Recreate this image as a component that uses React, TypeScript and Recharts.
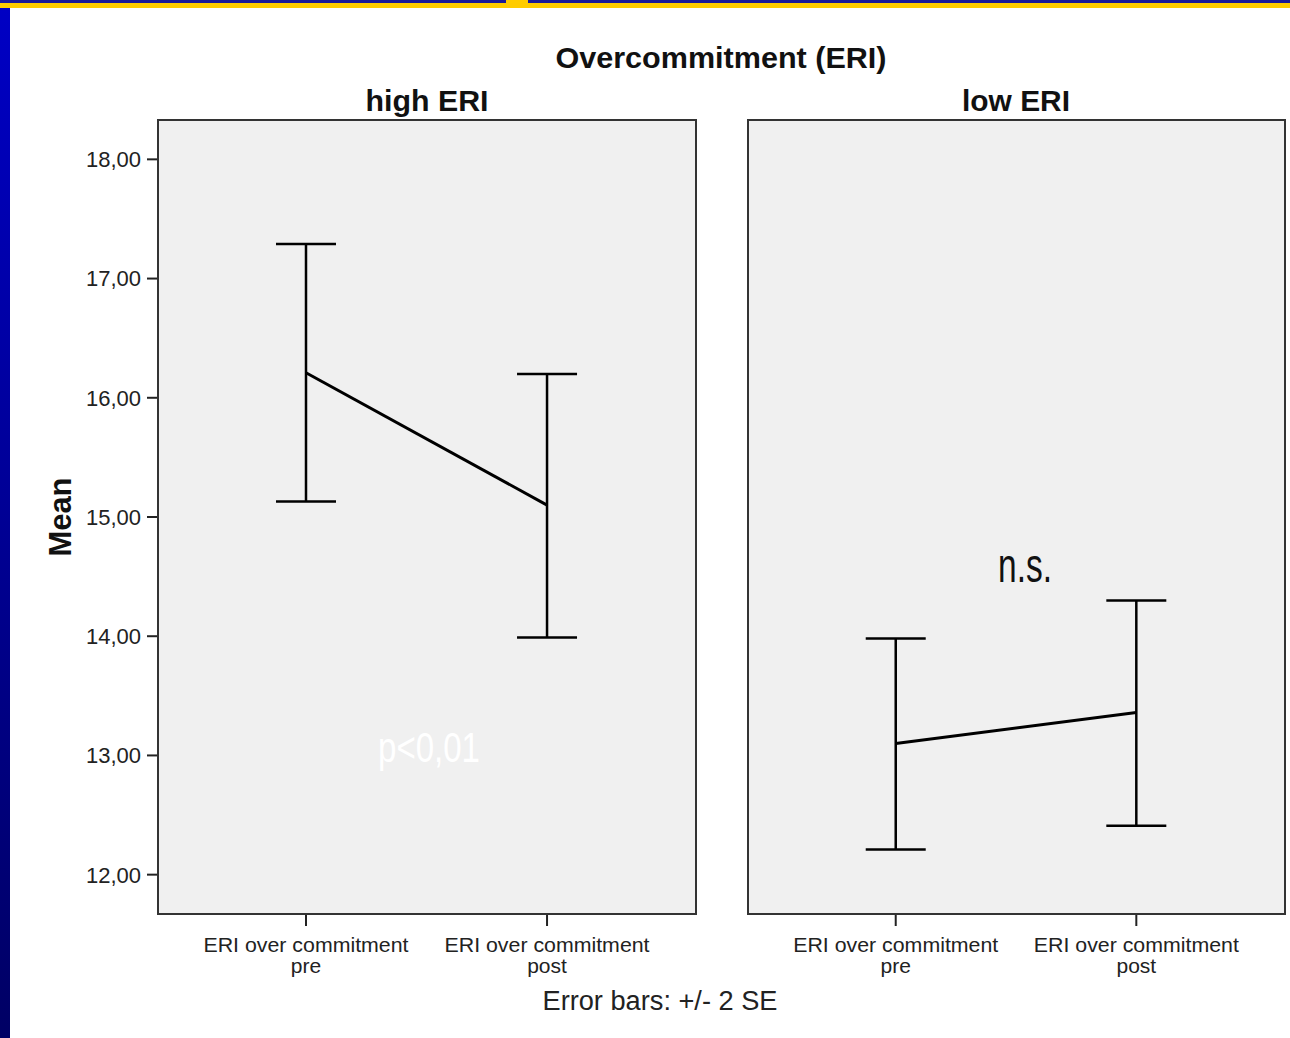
import React from 'react';
import { LineChart, Line, XAxis, YAxis, ErrorBar, CartesianGrid } from 'recharts';

const categoryLine1 = ['ERI over commitment', 'ERI over commitment'];
const categoryLine2 = ['pre', 'post'];
const yTicks = [12, 13, 14, 15, 16, 17, 18];

const highMeans = [16.21, 15.1];
const highLower = [15.13, 13.99];
const highUpper = [17.29, 16.2];

const lowMeans = [13.1, 13.36];
const lowLower = [12.21, 12.41];
const lowUpper = [13.98, 14.3];

const buildRows = (means: number[], lower: number[], upper: number[]) =>
  means.map((m, i) => ({ x: i, mean: m, err: [m - lower[i], upper[i] - m] }));

const highData = buildRows(highMeans, highLower, highUpper);
const lowData = buildRows(lowMeans, lowLower, lowUpper);

const FONT = '"Liberation Sans", Arial, sans-serif';
const Y_DOMAIN: [number, number] = [11.67, 18.33];
const X_DOMAIN: [number, number] = [-0.614, 1.618];

const fmt = (v: number) => v.toFixed(2).replace('.', ',');

const YTick = (props: any) => {
  const { x, y, payload } = props;
  return (
    <text x={x} y={y} dy="0.36em" textAnchor="end" fontFamily={FONT} fontSize={22} fill="#222">
      {fmt(payload.value)}
    </text>
  );
};

const XTick = (props: any) => {
  const { x, y, payload } = props;
  const i = Math.round(payload.value);
  return (
    <g>
      <text x={x} y={y + 24} textAnchor="middle" fontFamily={FONT} fontSize={21} fill="#222" textLength={205} lengthAdjust="spacingAndGlyphs">
        {categoryLine1[i]}
      </text>
      <text x={x} y={y + 45} textAnchor="middle" fontFamily={FONT} fontSize={21} fill="#222">
        {categoryLine2[i]}
      </text>
    </g>
  );
};

const Panel = ({ data, showY, left, width, marginLeft, marginRight }: any) => (
  <div style={{ position: 'absolute', left, top: 0 }}>
    <LineChart
      width={width}
      height={1038}
      data={data}
      margin={{ top: 120, left: marginLeft, right: marginRight, bottom: 64 }}
    >
      <CartesianGrid fill="#f0f0f0" horizontal={false} vertical={false} />
      <XAxis
        dataKey="x"
        type="number"
        domain={X_DOMAIN}
        ticks={[0, 1]}
        allowDataOverflow
        height={60}
        tickSize={12}
        tickLine={{ stroke: '#222', strokeWidth: 2 }}
        axisLine={false}
        tick={<XTick />}
        interval={0}
      />
      <YAxis
        type="number"
        domain={Y_DOMAIN}
        ticks={yTicks}
        allowDataOverflow
        hide={!showY}
        width={80}
        tickSize={11}
        tickMargin={6}
        tickLine={{ stroke: '#222', strokeWidth: 2 }}
        axisLine={false}
        tick={<YTick />}
        interval={0}
      />
      <Line
        dataKey="mean"
        stroke="#000"
        strokeWidth={3}
        dot={false}
        activeDot={false}
        isAnimationActive={false}
      >
        <ErrorBar dataKey="err" width={30} stroke="#000" strokeWidth={2.5} direction="y" />
      </Line>
    </LineChart>
  </div>
);

export default function App() {
  return (
    <div style={{ position: 'absolute', left: 0, top: 0, width: 1290, height: 1038, background: '#fff', overflow: 'hidden' }}>
      <Panel data={highData} showY left={0} width={720} marginLeft={78} marginRight={24} />
      <Panel data={lowData} showY={false} left={720} width={570} marginLeft={28} marginRight={5} />
      <svg width={1290} height={1038} style={{ position: 'absolute', left: 0, top: 0, pointerEvents: 'none' }}>
        <defs>
          <linearGradient id="sideBar" x1="0" y1="0" x2="0" y2="1">
            <stop offset="0" stopColor="#0000c4" />
            <stop offset="1" stopColor="#000064" />
          </linearGradient>
        </defs>
        <rect x={0} y={0} width={1290} height={3} fill="#1a1a9a" />
        <rect x={0} y={3} width={1290} height={5} fill="#ffcc00" />
        <rect x={506} y={0} width={22} height={3} fill="#ffcc00" />
        <rect x={0} y={8} width={10} height={1030} fill="url(#sideBar)" />

        <rect x={158} y={120} width={538} height={794} fill="none" stroke="#333" strokeWidth={2} />
        <rect x={748} y={120} width={537} height={794} fill="none" stroke="#333" strokeWidth={2} />

        <text x={721} y={68} textAnchor="middle" fontFamily={FONT} fontWeight="bold" fontSize={30} fill="#111" textLength={331} lengthAdjust="spacingAndGlyphs">
          Overcommitment (ERI)
        </text>
        <text x={427} y={111} textAnchor="middle" fontFamily={FONT} fontWeight="bold" fontSize={30} fill="#111" textLength={123} lengthAdjust="spacingAndGlyphs">
          high ERI
        </text>
        <text x={1016} y={111} textAnchor="middle" fontFamily={FONT} fontWeight="bold" fontSize={30} fill="#111" textLength={108} lengthAdjust="spacingAndGlyphs">
          low ERI
        </text>
        <text
          x={0}
          y={0}
          transform="translate(71 517) rotate(-90)"
          textAnchor="middle"
          fontFamily={FONT}
          fontWeight="bold"
          fontSize={31}
          fill="#111"
          textLength={79}
          lengthAdjust="spacingAndGlyphs"
        >
          Mean
        </text>
        <text x={660} y={1010} textAnchor="middle" fontFamily={FONT} fontSize={27} fill="#222" textLength={235} lengthAdjust="spacingAndGlyphs">
          Error bars: +/- 2 SE
        </text>
        <text x={1025} y={582} textAnchor="middle" fontFamily={FONT} fontSize={48} fill="#111" textLength={54} lengthAdjust="spacingAndGlyphs">
          n.s.
        </text>
        <text x={429} y={762} textAnchor="middle" fontFamily={FONT} fontSize={42} fill="#ffffff" textLength={102} lengthAdjust="spacingAndGlyphs">
          p&lt;0,01
        </text>
      </svg>
    </div>
  );
}
